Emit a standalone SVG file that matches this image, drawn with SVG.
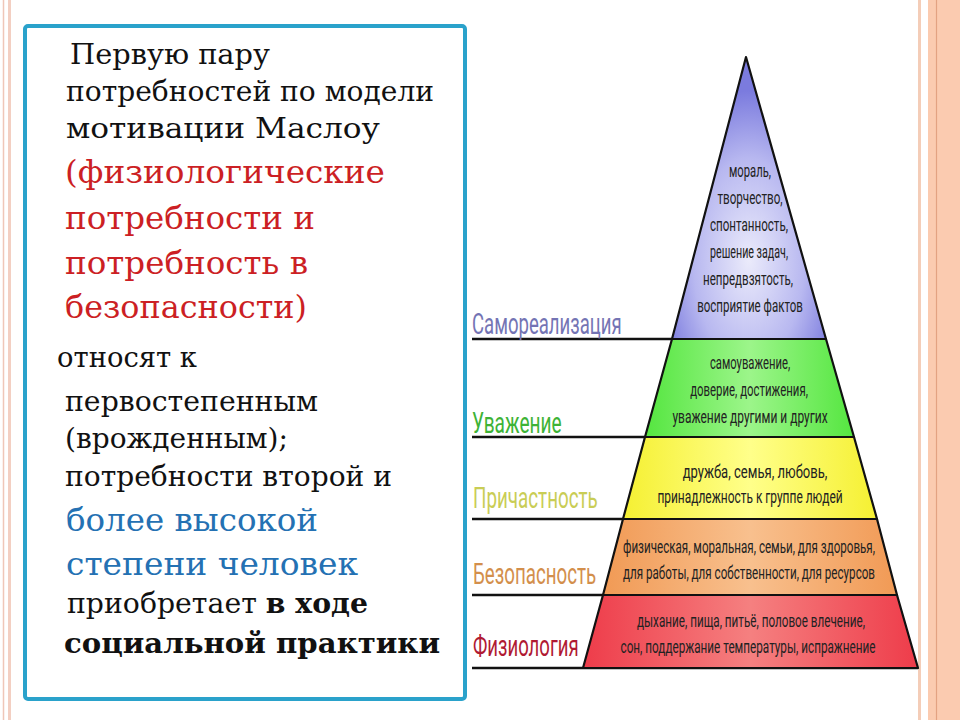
<svg xmlns="http://www.w3.org/2000/svg" width="960" height="720" viewBox="0 0 960 720">
<style>
.t{font-family:"DejaVu Serif","Liberation Serif",serif;font-size:27px;fill:#111}
.r{font-family:"DejaVu Serif","Liberation Serif",serif;font-size:31px;fill:#cc1f24}
.b{font-family:"DejaVu Serif","Liberation Serif",serif;font-size:31px;fill:#2471b3}
.bold{font-weight:bold}
.lab{font-family:Roboto,"Open Sans","DejaVu Sans",sans-serif;font-size:29px}
.p{font-family:Roboto,"Open Sans","DejaVu Sans",sans-serif;font-size:18px;fill:#222;text-anchor:middle}
.band{stroke:#111;stroke-width:2.2;stroke-linejoin:round}
.ul{stroke:#111;stroke-width:2.6}
</style>
<defs>
<radialGradient id="gBlue" cx="0.5" cy="0.72" r="0.6">
<stop offset="0" stop-color="#ebebfb"/><stop offset="0.6" stop-color="#b8b8f0"/><stop offset="1" stop-color="#7b7bde"/>
</radialGradient>
<linearGradient id="gGreen" x1="0" x2="1" y1="0" y2="0">
<stop offset="0" stop-color="#55e640"/><stop offset="0.5" stop-color="#9cf58a"/><stop offset="1" stop-color="#55e640"/>
</linearGradient>
<linearGradient id="gYellow" x1="0" x2="1" y1="0" y2="0">
<stop offset="0" stop-color="#f5f032"/><stop offset="0.5" stop-color="#ffff8a"/><stop offset="1" stop-color="#f5f032"/>
</linearGradient>
<linearGradient id="gOrange" x1="0" x2="1" y1="0" y2="0">
<stop offset="0" stop-color="#f19a55"/><stop offset="0.5" stop-color="#f8c08e"/><stop offset="1" stop-color="#f19a55"/>
</linearGradient>
<linearGradient id="gRed" x1="0" x2="1" y1="0" y2="0">
<stop offset="0" stop-color="#ee3c4a"/><stop offset="0.5" stop-color="#f58080"/><stop offset="1" stop-color="#ee3c4a"/>
</linearGradient>
</defs>
<rect width="960" height="720" fill="#fff"/>
<g id="edges">
<line x1="3.5" y1="0" x2="3.5" y2="720" stroke="#efc6b8" stroke-width="1.5"/>
<line x1="9.5" y1="0" x2="9.5" y2="720" stroke="#f3cfc2" stroke-width="3"/>
<line x1="919.5" y1="0" x2="919.5" y2="720" stroke="#f4cdb8" stroke-width="3"/>
<rect x="928" y="0" width="32" height="720" fill="#fbcbb0"/>
<line x1="936.5" y1="0" x2="936.5" y2="720" stroke="#e3a282" stroke-width="1.2"/>
</g>
<g id="textbox">
<rect x="25" y="26" width="440" height="673" rx="3" fill="#fff" stroke="#2aa2cb" stroke-width="4"/>
<text class="t" x="70" y="64" textLength="200" lengthAdjust="spacingAndGlyphs">Первую пару</text>
<text class="t" x="66" y="101" textLength="368" lengthAdjust="spacingAndGlyphs">потребностей по модели</text>
<text class="t" x="66" y="138" textLength="314" lengthAdjust="spacingAndGlyphs">мотивации Маслоу</text>
<text class="r" x="65" y="183" textLength="320" lengthAdjust="spacingAndGlyphs">(физиологические</text>
<text class="r" x="65" y="229" textLength="250" lengthAdjust="spacingAndGlyphs">потребности и</text>
<text class="r" x="65" y="274" textLength="243" lengthAdjust="spacingAndGlyphs">потребность в</text>
<text class="r" x="65" y="318" textLength="242" lengthAdjust="spacingAndGlyphs">безопасности)</text>
<text class="t" x="57" y="367" textLength="140" lengthAdjust="spacingAndGlyphs">относят к</text>
<text class="t" x="65" y="411" textLength="253" lengthAdjust="spacingAndGlyphs">первостепенным</text>
<text class="t" x="65" y="448" textLength="223" lengthAdjust="spacingAndGlyphs">(врожденным);</text>
<text class="t" x="65" y="486" textLength="327" lengthAdjust="spacingAndGlyphs">потребности второй и</text>
<text class="b" x="66" y="531" textLength="252" lengthAdjust="spacingAndGlyphs">более высокой</text>
<text class="b" x="66" y="575" textLength="292" lengthAdjust="spacingAndGlyphs">степени человек</text>
<text class="t" x="67" y="613" textLength="301" lengthAdjust="spacingAndGlyphs">приобретает <tspan class="bold">в ходе</tspan></text>
<text class="t bold" x="64" y="653" textLength="376" lengthAdjust="spacingAndGlyphs">социальной практики</text>
</g>
<g id="connectors">
<line class="ul" x1="472" y1="339" x2="672" y2="339"/>
<line class="ul" x1="472" y1="437" x2="645" y2="437"/>
<line class="ul" x1="472" y1="519" x2="623" y2="519"/>
<line class="ul" x1="472" y1="595" x2="603" y2="595"/>
<line class="ul" x1="472" y1="668" x2="918" y2="668"/>
</g>
<g id="level-selfactualization">
<polygon class="band" points="746,57 672,339 826,339" fill="url(#gBlue)"/>
<text class="p" transform="translate(750,177) scale(0.75,1)" textLength="56" lengthAdjust="spacingAndGlyphs">мораль,</text>
<text class="p" transform="translate(750,204) scale(0.75,1)" textLength="87" lengthAdjust="spacingAndGlyphs">творчество,</text>
<text class="p" transform="translate(749,231) scale(0.75,1)" textLength="104" lengthAdjust="spacingAndGlyphs">спонтанность,</text>
<text class="p" transform="translate(749,258) scale(0.75,1)" textLength="104" lengthAdjust="spacingAndGlyphs">решение задач,</text>
<text class="p" transform="translate(748,285) scale(0.75,1)" textLength="120" lengthAdjust="spacingAndGlyphs">непредвзятость,</text>
<text class="p" transform="translate(750,312) scale(0.75,1)" textLength="141" lengthAdjust="spacingAndGlyphs">восприятие фактов</text>
<text class="lab" transform="translate(472,334) scale(0.8,1)" fill="#7474b4" textLength="187" lengthAdjust="spacingAndGlyphs">Самореализация</text>
</g>
<g id="level-esteem">
<polygon class="band" points="672,339 826,339 854,437 645,437" fill="url(#gGreen)"/>
<text class="p" transform="translate(750,369) scale(0.75,1)" textLength="107" lengthAdjust="spacingAndGlyphs">самоуважение,</text>
<text class="p" transform="translate(749,396) scale(0.75,1)" textLength="157" lengthAdjust="spacingAndGlyphs">доверие, достижения,</text>
<text class="p" transform="translate(750,423) scale(0.75,1)" textLength="207" lengthAdjust="spacingAndGlyphs">уважение другими и других</text>
<text class="lab" transform="translate(472,433) scale(0.8,1)" fill="#3db336" textLength="112" lengthAdjust="spacingAndGlyphs">Уважение</text>
</g>
<g id="level-belonging">
<polygon class="band" points="645,437 854,437 877,519 623,519" fill="url(#gYellow)"/>
<text class="p" transform="translate(755,478) scale(0.75,1)" textLength="193" lengthAdjust="spacingAndGlyphs">дружба, семья, любовь,</text>
<text class="p" transform="translate(750,503) scale(0.75,1)" textLength="247" lengthAdjust="spacingAndGlyphs">принадлежность к группе людей</text>
<text class="lab" transform="translate(473,508) scale(0.8,1)" fill="#c9cd55" textLength="156" lengthAdjust="spacingAndGlyphs">Причастность</text>
</g>
<g id="level-safety">
<polygon class="band" points="623,519 877,519 897,595 603,595" fill="url(#gOrange)"/>
<text class="p" transform="translate(749,553) scale(0.75,1)" textLength="336" lengthAdjust="spacingAndGlyphs">физическая, моральная, семьи, для здоровья,</text>
<text class="p" transform="translate(749,579) scale(0.75,1)" textLength="336" lengthAdjust="spacingAndGlyphs">для работы, для собственности, для ресурсов</text>
<text class="lab" transform="translate(473,584) scale(0.8,1)" fill="#d38f4c" textLength="154" lengthAdjust="spacingAndGlyphs">Безопасность</text>
</g>
<g id="level-physiology">
<polygon class="band" points="603,595 897,595 918,668 583,668" fill="url(#gRed)"/>
<text class="p" transform="translate(751,627) scale(0.75,1)" textLength="304" lengthAdjust="spacingAndGlyphs">дыхание, пища, питьё, половое влечение,</text>
<text class="p" transform="translate(748,653) scale(0.75,1)" textLength="340" lengthAdjust="spacingAndGlyphs">сон, поддержание температуры, испражнение</text>
<text class="lab" transform="translate(473,656) scale(0.8,1)" fill="#b01a33" textLength="132" lengthAdjust="spacingAndGlyphs">Физиология</text>
</g>
</svg>
